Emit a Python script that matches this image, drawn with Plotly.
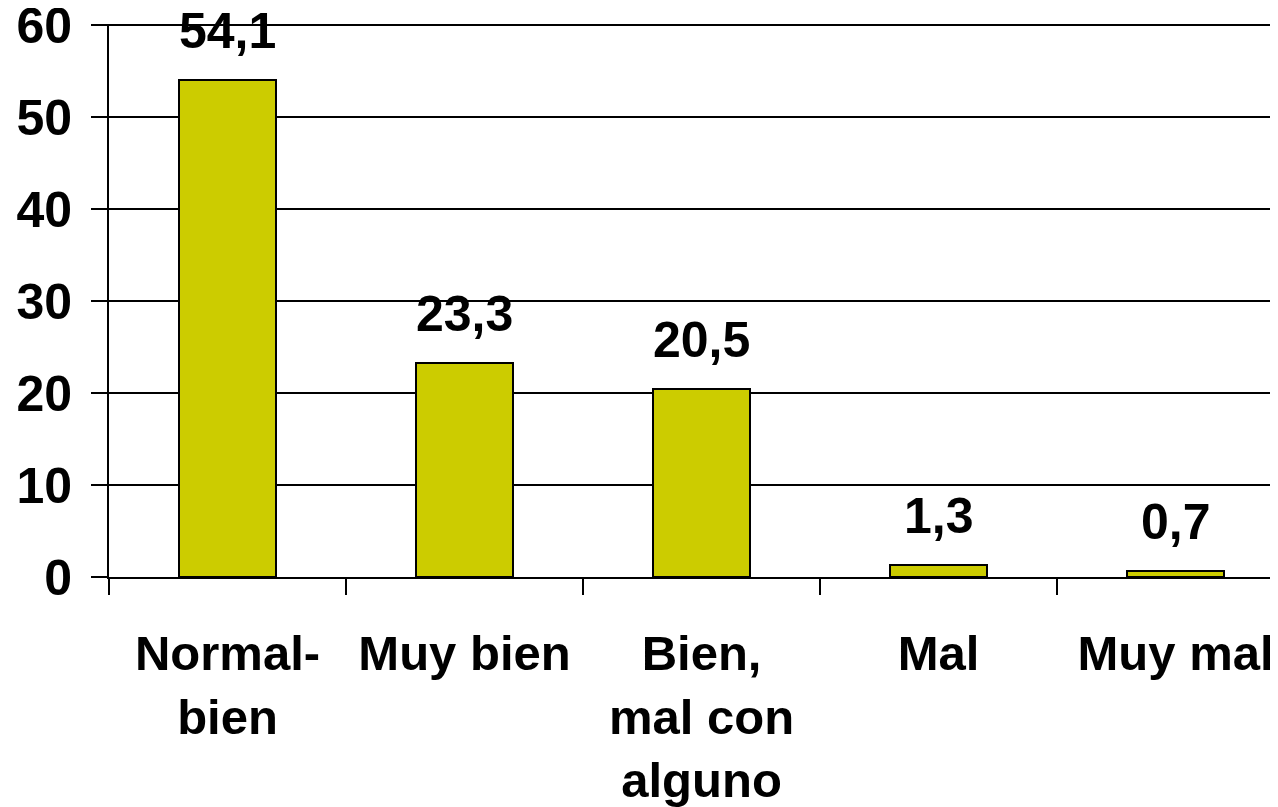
import plotly.graph_objects as go

categories = ["Normal-<br>bien", "Muy bien", "Bien,<br>mal con<br>alguno", "Mal", "Muy mal"]
values = [54.1, 23.3, 20.5, 1.3, 0.7]
labels = ["54,1", "23,3", "20,5", "1,3", "0,7"]
y_ticks = [0, 10, 20, 30, 40, 50, 60]

FONT = "Liberation Sans, Arial, sans-serif"

fig = go.Figure()
fig.add_trace(go.Bar(
    x=categories,
    y=values,
    width=0.41,
    marker=dict(color="#CCCC00", line=dict(color="black", width=2)),
    hoverinfo="skip",
))

# value labels above each bar
for cat, v, lab in zip(categories, values, labels):
    fig.add_annotation(x=cat, y=v, text=lab, showarrow=False, yanchor="bottom",
                       yshift=19, font=dict(family=FONT, size=50, color="black", weight="bold"))

fig.update_layout(
    width=1278, height=807,
    paper_bgcolor="white", plot_bgcolor="white",
    margin=dict(l=101, r=0, t=16, b=238),
    showlegend=False,
    bargap=0,
    xaxis=dict(
        range=[-0.5, 4.466], showgrid=False, showline=True, linecolor="black", linewidth=2,
        ticks="outside", tickson="boundaries", ticklen=16, tickwidth=2, tickcolor="black",
        tickfont=dict(family=FONT, size=49, color="black", weight="bold"),
        ticklabelstandoff=32, automargin=False,
    ),
    yaxis=dict(
        range=[0, 60.15], tickvals=y_ticks, showgrid=True, gridcolor="black", gridwidth=2,
        showline=True, linecolor="black", linewidth=2, zeroline=False,
        ticks="outside", ticklen=16, tickwidth=2, tickcolor="black",
        tickfont=dict(family=FONT, size=50, color="black", weight="bold"),
        ticklabelstandoff=9, ticklabeloverflow="allow", automargin=False,
    ),
)

fig.write_html("out.html")
